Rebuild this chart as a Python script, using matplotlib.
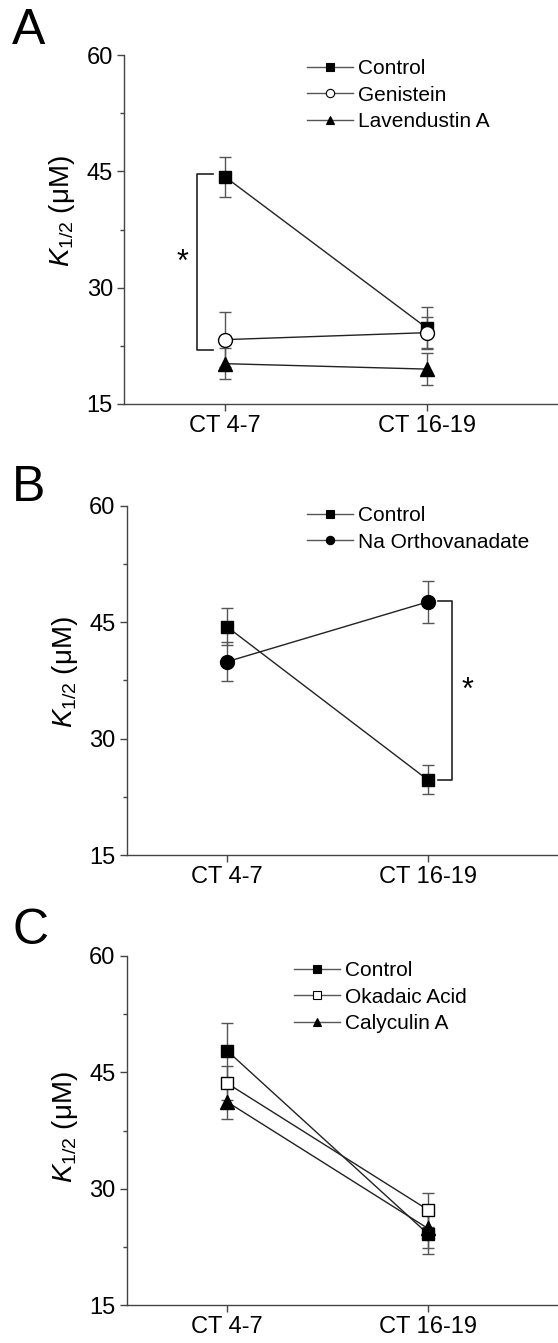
import matplotlib
matplotlib.use("Agg")
import matplotlib.pyplot as plt
import numpy as np

plt.rcParams['font.family'] = ['Liberation Sans', 'DejaVu Sans']
plt.rcParams['mathtext.fontset'] = 'custom'
plt.rcParams['mathtext.rm'] = 'Liberation Sans'
plt.rcParams['mathtext.it'] = 'Liberation Sans:italic'

categories = ["CT 4-7", "CT 16-19"]
yticks = [15, 30, 45, 60]

# Panel A
a_labels = ["Control", "Genistein", "Lavendustin A"]
a_mean = [[44.3, 24.8], [23.3, 24.2], [20.2, 19.5]]
a_err = [[2.6, 2.7], [3.5, 2.0], [2.0, 2.1]]
a_sig = [21.9, 44.6]

# Panel B
b_labels = ["Control", "Na Orthovanadate"]
b_mean = [[44.4, 24.7], [39.9, 47.6]]
b_err = [[2.4, 1.9], [2.5, 2.7]]
b_sig = [24.6, 47.7]

# Panel C
c_labels = ["Control", "Okadaic Acid", "Calyculin A"]
c_mean = [[47.8, 24.2], [43.6, 27.3], [41.2, 24.9]]
c_err = [[3.6, 2.6], [2.2, 2.2], [2.2, 2.5]]

W, H = 558, 1343
fig = plt.figure(figsize=(W / 100, H / 100), dpi=100)

def ax_at(left_px, top_px, bottom_px, right_px=W):
    return fig.add_axes([left_px / W, 1 - bottom_px / H,
                         (right_px - left_px) / W, (bottom_px - top_px) / H])

line_c = '#222222'
err_c = '#555555'
x = np.arange(1, len(categories) + 1)

def style(ax, label_y):
    ax.set_xlim(0.5, 2.65)
    ax.set_ylim(15, 60)
    ax.set_yticks(yticks)
    ax.set_yticks([22.5, 37.5, 52.5], minor=True)
    ax.set_xticks(x)
    ax.set_xticklabels(categories)
    for s in ['top', 'right']:
        ax.spines[s].set_visible(False)
    for s in ['left', 'bottom']:
        ax.spines[s].set_color('#444444')
        ax.spines[s].set_linewidth(1.0)
    ax.tick_params(axis='both', which='major', direction='out', length=5,
                   width=1, color='#444444', labelsize=17, pad=3)
    ax.tick_params(axis='y', which='minor', direction='out', length=3,
                   width=1, color='#444444')
    ax.set_ylabel('$K_{1/2}$ (μM)', fontsize=20, va='center')
    ax.yaxis.set_label_coords(-0.142, label_y)

def series(ax, means, errs, markers, faces, sizes, labels):
    hs = []
    for m, e, mk, fc, ms, lb in zip(means, errs, markers, faces, sizes, labels):
        ax.errorbar(x, m, yerr=e, fmt='none', ecolor=err_c, elinewidth=1,
                    capsize=4.3, capthick=1, zorder=2)
        ax.plot(x, m, '-', color=line_c, lw=1, zorder=3)
        ax.plot(x, m, linestyle='none', marker=mk, ms=ms, mfc=fc,
                mec='black', mew=1, zorder=4)
        h, = ax.plot([], [], '-', color='#555555', lw=1, marker=mk,
                     ms=ms * 0.6, mfc=fc, mec='black', mew=0.8, label=lb)
        hs.append(h)
    return hs

def legend(ax, hs, x_px, y_px):
    ax.legend(handles=hs, loc='upper left',
              bbox_to_anchor=(x_px / W, 1 - y_px / H),
              bbox_transform=fig.transFigure, frameon=False, fontsize=15,
              handlelength=2.2, handletextpad=0.25, labelspacing=0.37,
              borderpad=0, borderaxespad=0)

# A
axA = ax_at(124, 55, 404)
style(axA, 0.553)
hs = series(axA, a_mean, a_err, ['s', 'o', '^'], ['black', 'white', 'black'],
            [9, 10, 10], a_labels)
legend(axA, hs, 307, 59)
xb0, xb1 = 0.86, 0.94
axA.plot([xb1, xb0, xb0, xb1], [a_sig[1], a_sig[1], a_sig[0], a_sig[0]],
         color=line_c, lw=1.2)
axA.text(0.79, sum(a_sig) / 2, '*', fontsize=22, ha='center', va='center')

# B
axB = ax_at(126.7, 505.7, 855)
style(axB, 0.525)
hs = series(axB, b_mean, b_err, ['s', 'o'], ['black', 'black'], [9, 10], b_labels)
legend(axB, hs, 307, 506)
xb0, xb1 = 2.05, 2.124
axB.plot([xb0, xb1, xb1, xb0], [b_sig[1], b_sig[1], b_sig[0], b_sig[0]],
         color=line_c, lw=1.2)
axB.text(2.197, sum(b_sig) / 2, '*', fontsize=22, ha='center', va='center')

# C
axC = ax_at(126.7, 956, 1305)
style(axC, 0.51)
hs = series(axC, c_mean, c_err, ['s', 's', '^'], ['black', 'white', 'black'],
            [9, 9, 10], c_labels)
legend(axC, hs, 294, 961)

for lab, ypx in [('A', 8), ('B', 465), ('C', 908)]:
    fig.text(12 / W, 1 - ypx / H, lab, fontsize=36, ha='left', va='top')

fig.savefig('out.png', dpi=100)
